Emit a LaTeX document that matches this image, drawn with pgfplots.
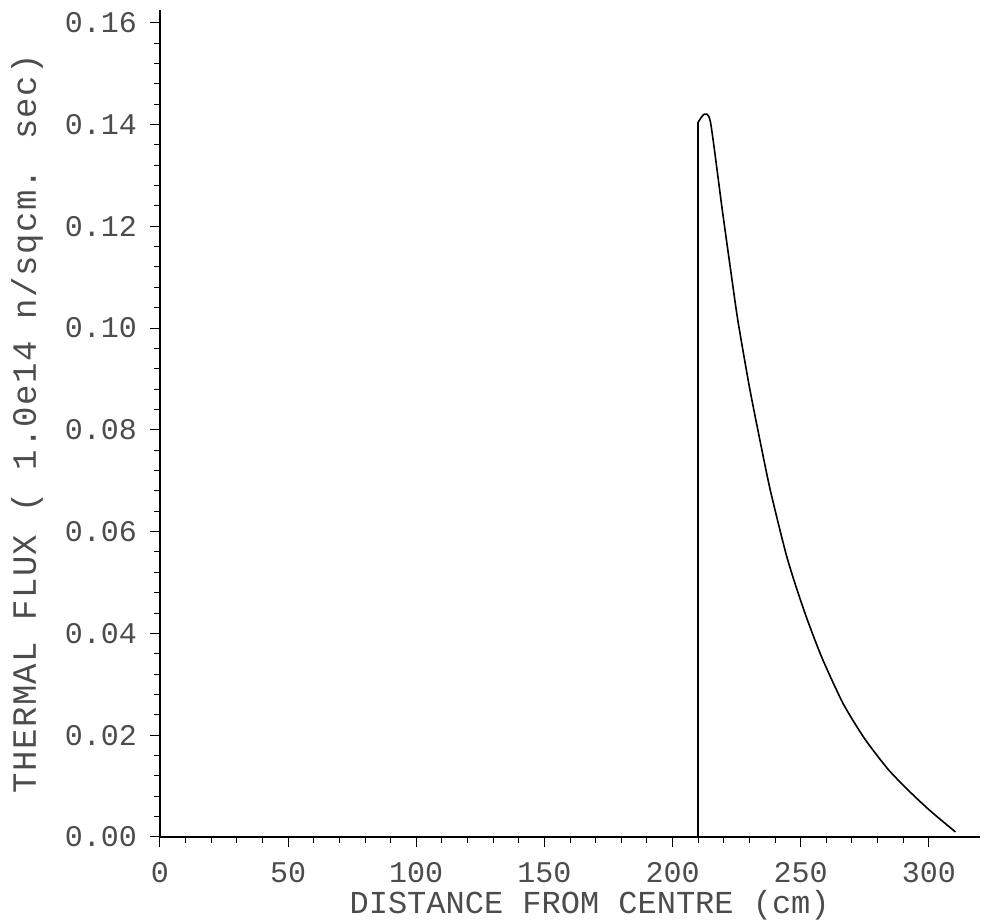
\documentclass[border=0pt]{standalone}
\usepackage{fontspec}
\setmainfont{Liberation Mono}
\usepackage{pgfplots}
\pgfplotsset{compat=1.18}
\begin{document}
\begin{tikzpicture}
\begin{axis}[name=ax, scale only axis, width=410pt, height=413.5pt,
  xmin=0, xmax=320, ymin=0, ymax=0.1625,
  axis lines=left, axis line style={-, line width=0.6pt, black},
  xtick={0,50,...,300}, ytick={0,0.02,0.04,0.06,0.08,0.10,0.12,0.14,0.16},
  minor x tick num=4, minor y tick num=4,
  tick align=outside, major tick length=5pt, minor tick length=3pt,
  tick style={black, line width=0.5pt},
  scaled y ticks=false,
  every tick label/.append style={font=\fontsize{15}{15}\selectfont, text=black!70},
  /pgf/number format/assume math mode=true,
  yticklabel style={/pgf/number format/fixed, /pgf/number format/fixed zerofill, /pgf/number format/precision=2, xshift=-3pt},
  xticklabel style={yshift=-4pt},
  xlabel={DISTANCE FROM CENTRE (cm)},
  ylabel={THERMAL FLUX ( 1.0e14 n/sqcm. sec)},
  xlabel style={font=\fontsize{16}{16}\selectfont, text=black!70, at={(axis description cs:0.524,-0.082)}, anchor=center},
  ylabel style={font=\fontsize{17}{17}\selectfont\addfontfeature{LetterSpace=4}, text=black!70, at={(axis description cs:-0.162,0.5)}, anchor=center},
]
\addplot[black, line width=0.8pt] table {
x y
210.0 0.0000
210.0 0.1404
};
\addplot[black, line width=0.8pt, smooth, tension=0.4] table {
x y
210.0 0.1404
212.3 0.1420
214.8 0.1405
219.4 0.1233
222.8 0.1110
225.5 0.1015
229.8 0.0890
233.3 0.0800
238.0 0.0685
244.1 0.0560
248.0 0.0495
252.6 0.0427
258.5 0.0350
266.6 0.0262
275.0 0.0193
284.3 0.0132
293.2 0.0086
300.9 0.0050
310.4 0.0010
};
\end{axis}
\pgfresetboundingbox
\path ([shift={(-80pt,-43.5pt)}]ax.south west) rectangle ([shift={(412pt,418.5pt)}]ax.south west);
\end{tikzpicture}
\end{document}
